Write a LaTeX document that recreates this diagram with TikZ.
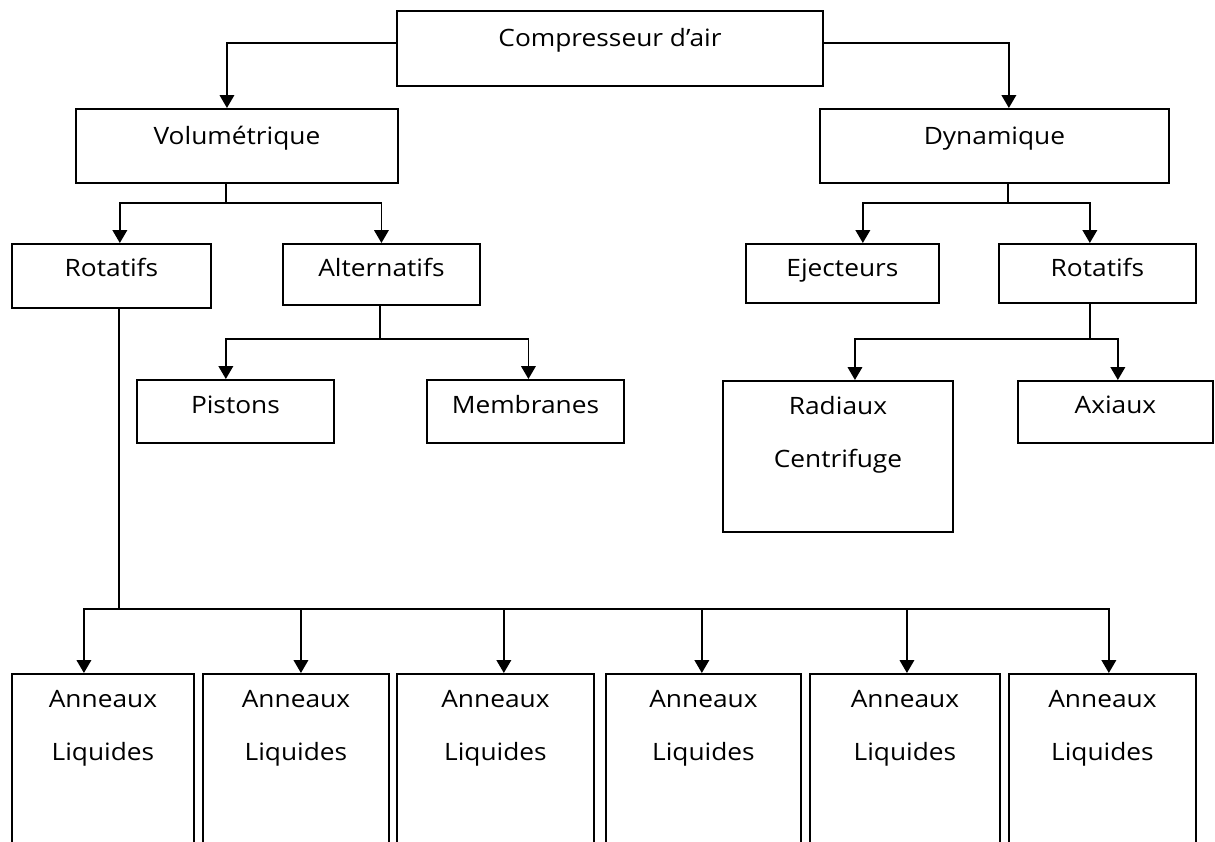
\documentclass[tikz,border=0pt]{standalone}
\usepackage{fontspec}
\setmainfont[FakeStretch=1.1]{Open Sans}
\usetikzlibrary{positioning,arrows.meta}

\begin{document}
\begin{tikzpicture}[x=0.025cm, y=-0.025cm, line width=1.3pt, >={Triangle[length=3.2mm,width=3.6mm]},
  box/.style={draw, rectangle, anchor=north west, inner xsep=0pt, inner ysep=0pt, align=center,
    font=\fontsize{17}{38}\selectfont}]
  \useasboundingbox (0,0) rectangle (1215,841);
  \clip (0,0) rectangle (1215,841);

  \node[box, minimum width=10.65cm, text height=9mm, text depth=9.75mm] (comp) at (396,10) {Compresseur d’air};
  \node[box, minimum width=8.05cm, text height=9mm, text depth=9.5mm] (vol) at (75,108) {Volumétrique};
  \node[box, minimum width=8.725cm, text height=9mm, text depth=9.5mm] (dyn) at (819,108) {Dynamique};

  \node[box, minimum width=4.975cm, text height=8.25mm, text depth=7.75mm] (rotg) at (11,243) {Rotatifs};
  \node[box, minimum width=4.925cm, text height=8.25mm, text depth=7mm] (alt) at (282,243) {Alternatifs};
  \node[box, minimum width=4.825cm, text height=8.25mm, text depth=6.5mm] (eje) at (745,243) {Ejecteurs};
  \node[box, minimum width=4.925cm, text height=8.25mm, text depth=6.5mm] (rotd) at (998,243) {Rotatifs};

  \node[box, minimum width=4.925cm, text height=8.5mm, text depth=7.25mm] (pis) at (136,379) {Pistons};
  \node[box, minimum width=4.925cm, text height=8.5mm, text depth=7.25mm] (mem) at (426,379) {Membranes};
  \node[box, minimum width=5.75cm, text height=21.75mm, text depth=16mm] (rad) at (722,380) {Radiaux\\Centrifuge};
  \node[box, minimum width=4.875cm, text height=8.25mm, text depth=7.25mm] (axi) at (1017,380) {Axiaux};

  % anneaux liquides (coupés en bas)
  \foreach \n/\x/\w in {l1/11/4.55, l2/202/4.65, l3/396/4.925, l4/605/4.875, l5/809/4.75, l6/1008/4.675}
    \node[box, minimum width=\w cm, text height=21.75mm, text depth=40mm] (\n) at (\x,673) {Anneaux\\Liquides};

  % liaisons
  \draw[->] ([yshift=1.4mm]comp.west) -| ([xshift=-2.5mm]vol.north);
  \draw[->] ([yshift=1.4mm]comp.east) -| ([xshift=3.6mm]dyn.north);

  \coordinate (v) at (226,203);
  \draw (v |- vol.south) -- (v);
  \draw[->] (v) -| ([xshift=2.1mm]rotg.north);
  \draw[->] (v) -| (alt.north);

  \coordinate (d) at (1008,203);
  \draw (d |- dyn.south) -- (d);
  \draw[->] (d) -| ([xshift=5.1mm]eje.north);
  \draw[->] (d) -| ([xshift=-1.9mm]rotd.north);

  \coordinate (a) at (380,339);
  \draw (a |- alt.south) -- (a);
  \draw[->] (a) -| ([xshift=-2.4mm]pis.north);
  \draw[->] (a) -| ([xshift=0.75mm]mem.north);

  \coordinate (r) at (1090,339);
  \draw (r |- rotd.south) -- (r);
  \draw[->] (r) -| ([xshift=4.25mm]rad.north);
  \draw[->] (r) -| ([xshift=0.6mm]axi.north);

  \coordinate (g) at (119,609);
  \draw (g |- rotg.south) -- (g);
  \foreach \n/\s in {l1/-4.75, l2/1.25, l3/2.1, l4/-0.4, l5/0.5, l6/1.6}
    \draw[->] (g) -| ([xshift=\s mm]\n.north);
\end{tikzpicture}
\end{document}
